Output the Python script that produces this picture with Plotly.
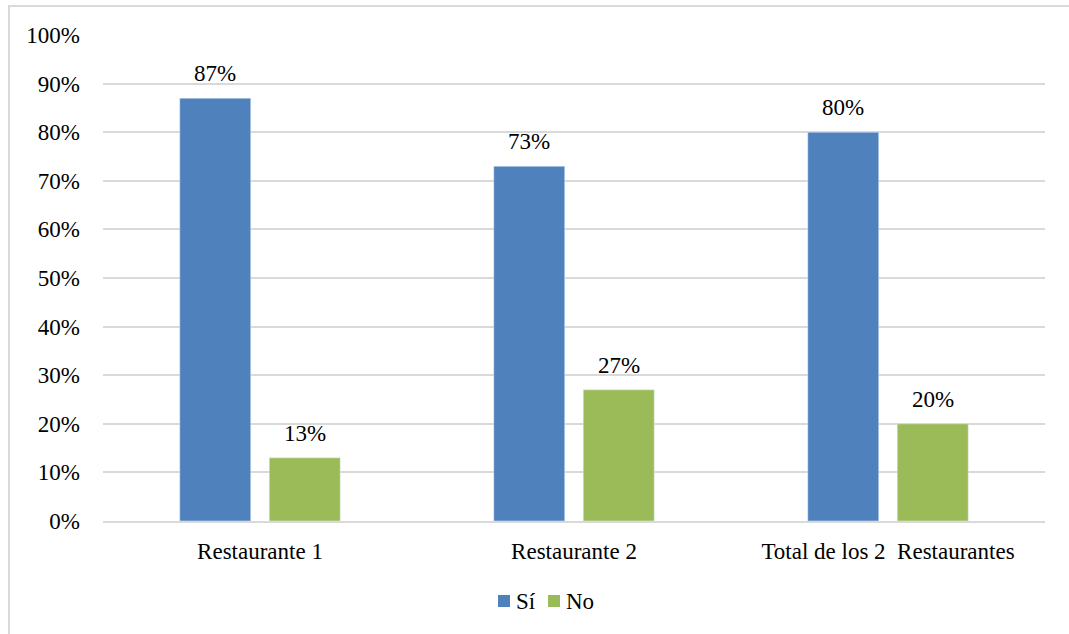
import plotly.graph_objects as go

categories = ["Restaurante 1", "Restaurante 2", "Total de los 2  Restaurantes"]
series_names = ["Sí", "No"]
si_values = [0.87, 0.73, 0.80]
no_values = [0.13, 0.27, 0.20]
y_ticks = [i / 10 for i in range(11)]
y_tick_labels = [f"{i * 10}%" for i in range(11)]

BLUE = "#4f81bd"
GREEN = "#9bbb59"
GRID = "#d9d9d9"
FONT = "Liberation Serif, Times New Roman, serif"
FS = 23

W, H = 1069, 634
L, R, T, B = 103, 24, 35, 113
plot_w = W - L - R
plot_h = H - T - B

BARGAP = 0.43
GROUPGAP = 0.207
# horizontal distance between the centres of the two bars of a group
slot_px = plot_w / len(categories) * (1 - BARGAP) / 2


def px_x(px):
    return (px - L) / plot_w


def px_y(py):
    return (H - B - py) / plot_h


fig = go.Figure()
for name, vals, color in zip(series_names, (si_values, no_values), (BLUE, GREEN)):
    fig.add_trace(go.Bar(x=categories, y=vals, name=name, marker_color=color,
                         showlegend=False))

# value labels above the bars
for vals, sign in ((si_values, -1), (no_values, 1)):
    for cat, v in zip(categories, vals):
        fig.add_annotation(x=cat, y=v, text=f"{round(v * 100)}%", showarrow=False,
                           xshift=sign * slot_px / 2, yshift=10, yanchor="bottom",
                           font=dict(family=FONT, size=FS, color="#000"))

# legend below the axis: small square key followed by the series name
legend_keys = [(series_names[0], BLUE, 498), (series_names[1], GREEN, 548)]
for name, color, x0 in legend_keys:
    fig.add_shape(type="rect", xref="paper", yref="paper",
                  x0=px_x(x0), x1=px_x(x0 + 12), y0=px_y(607), y1=px_y(595),
                  line=dict(width=0), fillcolor=color)
    fig.add_annotation(xref="paper", yref="paper", x=px_x(x0 + 16), y=px_y(601),
                       text=name, showarrow=False, xanchor="left", yanchor="middle",
                       font=dict(family=FONT, size=FS, color="#000"))

# outer frame
fig.add_shape(type="rect", xref="paper", yref="paper",
              x0=px_x(9), x1=px_x(W + 5), y0=px_y(H + 5), y1=px_y(6),
              line=dict(color=GRID, width=2), fillcolor="rgba(0,0,0,0)", layer="below")

fig.update_layout(
    width=W, height=H,
    margin=dict(l=L, r=R, t=T, b=B),
    paper_bgcolor="white", plot_bgcolor="white",
    barmode="group", bargap=BARGAP, bargroupgap=GROUPGAP,
    font=dict(family=FONT, size=FS, color="#000"),
    showlegend=False,
    xaxis=dict(showgrid=False, showline=True, linecolor=GRID, linewidth=2,
               ticks="", ticklabelstandoff=8, tickfont=dict(family=FONT, size=FS)),
    yaxis=dict(range=[0, 1.0], tickvals=y_ticks, ticktext=y_tick_labels,
               showgrid=True, gridcolor=GRID, gridwidth=2, zeroline=False,
               showline=False, ticks="", ticklabelstandoff=22,
               tickfont=dict(family=FONT, size=FS)),
)

fig.write_html("out.html")
